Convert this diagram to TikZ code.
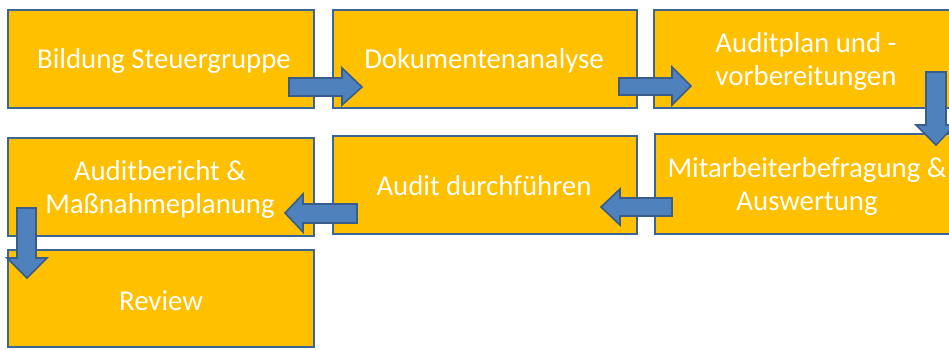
\documentclass[tikz,border=0pt]{standalone}
\usepackage{fontspec}
\setmainfont{Carlito}
\definecolor{boxfill}{HTML}{FFC000}
\definecolor{boxline}{HTML}{3B6593}
\definecolor{arrfill}{HTML}{4F81BD}
\definecolor{arrline}{HTML}{385D8A}
\begin{document}
\begin{tikzpicture}[x=1pt,y=-1pt,
  stepbox/.style={draw=boxline,line width=2.6pt,fill=boxfill},
  steptext/.style={text=white,align=center,font=\fontsize{28.8}{33}\selectfont},
  blockarrow/.style={draw=arrline,line width=1.6pt,fill=arrfill,line join=miter}]
\useasboundingbox (0,0) rectangle (949,349);
\clip (0,0) rectangle (949,349);
% boxes
\draw[stepbox] (8,10) rectangle (314,108);
\draw[stepbox] (333,10) rectangle (637,108);
\draw[stepbox] (654,10) rectangle (955,108);
\draw[stepbox] (655,134) rectangle (955,234);
\draw[stepbox] (333,136) rectangle (637,234);
\draw[stepbox] (8,138) rectangle (314,236);
\draw[stepbox] (8,250) rectangle (314,347);
% labels
\node[steptext] (b1) at (164,61) {Bildung Steuergruppe};
\node[steptext] (b2) at (484,61) {Dokumentenanalyse};
\node[steptext] (b3) at (806,61) {Auditplan und -\\vorbereitungen};
\node[steptext] (b4) at (807,186) {Mitarbeiterbefragung \&\\Auswertung};
\node[steptext] (b5) at (484,186) {Audit durchführen};
\node[steptext] (b6) at (160,189) {Auditbericht \&\\Maßnahmeplanung};
\node[steptext] (b7) at (161,301) {Review};
% arrows
\draw[blockarrow] (289,78) -- (342,78) -- (342,68) -- (362,87) -- (342,105) -- (342,96) -- (289,96) -- cycle;
\draw[blockarrow] (619,78) -- (672,78) -- (672,67) -- (691,86) -- (672,105) -- (672,95) -- (619,95) -- cycle;
\draw[blockarrow] (926,72) -- (946,72) -- (946,125) -- (955,125) -- (936,145) -- (916,125) -- (926,125) -- cycle;
\draw[blockarrow] (672,198) -- (620,198) -- (620,189) -- (601,207) -- (620,225) -- (620,216) -- (672,216) -- cycle;
\draw[blockarrow] (357,204) -- (303,204) -- (303,194) -- (285,213) -- (303,232) -- (303,223) -- (357,223) -- cycle;
\draw[blockarrow] (17,208) -- (36,208) -- (36,258) -- (47,258) -- (27,278) -- (7,258) -- (17,258) -- cycle;
\end{tikzpicture}
\end{document}
